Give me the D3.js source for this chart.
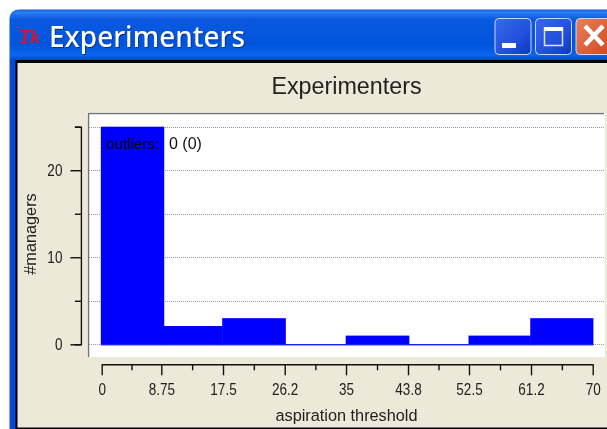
<!DOCTYPE html>
<html><head><meta charset="utf-8">
<script src="https://cdn.jsdelivr.net/npm/d3@7"></script>
<style>html,body{margin:0;padding:0;background:#fff;overflow:hidden}svg{display:block;filter:blur(0.4px)}text{font-family:"Liberation Sans",Arial,sans-serif}</style>
</head><body>
<svg id="c" width="607" height="429"></svg>
<script>
const binEdges=[-0.1,8.87,17.2,26.2,34.8,43.8,52.3,61.1,70.1];
const counts=[25,2.1,3,0,1,0,1,3];
const xMajor=[0,8.75,17.5,26.25,35,43.75,52.5,61.25,70];
const xLabels=["0","8.75","17.5","26.2","35","43.8","52.5","61.2","70"];
const xMinor=[4.375,13.125,21.875,30.625,39.375,48.125,56.875,65.625];
const yMajor=[0,10,20];
const yMinor=[5,15,25];
const yGrid=[0,5,10,15,20,25];
const windowTitle="Experimenters",chartTitle="Experimenters";
const xTitle="aspiration threshold",yTitle="#managers",note="outliers:",noteValue="0 (0)";

const svg=d3.select("#c");
const x=d3.scaleLinear().domain([0,70]).range([101.5,592.7]);
const xAxisScale=d3.scaleLinear().domain(xMajor).range([101.7,161.3,223,284.7,346,408,469,531,592.7]);
const y=d3.scaleLinear().domain([0,25]).range([344.3,126.7]);

const defs=svg.append("defs");
const g1=defs.append("linearGradient").attr("id","tb").attr("x1",0).attr("x2",0).attr("y1",0).attr("y2",1);
g1.attr("gradientUnits","userSpaceOnUse").attr("y1",9).attr("y2",60);
[[0,"#0a50d0"],[.06,"#2a80f0"],[.2,"#0a5ae0"],[.7,"#0054dc"],[.9,"#0a66ee"],[1,"#0048c8"]].forEach(d=>g1.append("stop").attr("offset",d[0]).attr("stop-color",d[1]));
const g2=defs.append("linearGradient").attr("id","bb").attr("x1",0).attr("x2",1).attr("y1",0).attr("y2",1);
[[0,"#3a68ec"],[.6,"#2350dc"],[1,"#0c38c0"]].forEach(d=>g2.append("stop").attr("offset",d[0]).attr("stop-color",d[1]));
const g3=defs.append("linearGradient").attr("id","rb").attr("x1",0).attr("x2",1).attr("y1",0).attr("y2",1);
[[0,"#e8805c"],[1,"#d0481c"]].forEach(d=>g3.append("stop").attr("offset",d[0]).attr("stop-color",d[1]));

svg.append("path").attr("d","M9.5,18Q10,9.5 20,9.5H607V429H9.5Z").attr("fill","url(#tb)");
svg.append("rect").attr("x",10).attr("y",60).attr("width",7).attr("height",369).attr("fill","#0848d8");
svg.append("rect").attr("x",15.5).attr("y",60).attr("width",592).attr("height",369).attr("fill","#000");
svg.append("rect").attr("x",17.5).attr("y",63).attr("width",590).attr("height",364.5).attr("fill","#ECE9D8");

svg.append("text").attr("x",19).attr("y",43).attr("font-size",19).attr("font-style","italic").attr("font-weight",700).attr("fill","#e8101c").style("font-family","'Liberation Serif',serif").text("Tk");
svg.append("text").attr("x",50).attr("y",48).attr("font-size",28).attr("font-weight",500).attr("fill","#00207a").attr("opacity",.7).style("font-family","'Noto Sans',sans-serif").text(windowTitle);
svg.append("text").attr("x",49).attr("y",47).attr("font-size",28).attr("font-weight",500).attr("fill","#fff").style("font-family","'Noto Sans',sans-serif").text(windowTitle);
const btn=(bx,fill)=>svg.append("rect").attr("x",bx).attr("y",18.5).attr("width",36).attr("height",36).attr("rx",4).attr("fill",fill).attr("stroke","#c8d8f8").attr("stroke-width",1);
btn(495,"url(#bb)");
svg.append("rect").attr("x",502).attr("y",43).attr("width",14).attr("height",5).attr("fill","#fff");
btn(535.5,"url(#bb)");
svg.append("rect").attr("x",544.5).attr("y",28).attr("width",18).attr("height",17.5).attr("fill","none").attr("stroke","#d8e4fc").attr("stroke-width",1.5);
svg.append("rect").attr("x",544).attr("y",27).attr("width",19).attr("height",4).attr("fill","#fff");
btn(576,"url(#rb)");
svg.append("path").attr("d","M585,26L603,45M603,26L585,45").attr("stroke","#fff").attr("stroke-width",4.5).attr("fill","none");

svg.append("text").attr("x",346.5).attr("y",94).attr("text-anchor","middle").attr("font-size",23.3).attr("fill","#222").text(chartTitle);
svg.append("rect").attr("x",87).attr("y",112).attr("width",518).attr("height",245).attr("fill","#fff");
svg.append("path").attr("d","M88.5,357V113.5H604").attr("fill","none").attr("stroke","#77776f").attr("stroke-width",1.5);

svg.append("g").selectAll("line").data(yGrid).join("line")
 .attr("x1",89).attr("x2",604).attr("y1",d=>Math.round(y(d))+.5).attr("y2",d=>Math.round(y(d))+.5)
 .attr("stroke","#999").attr("stroke-dasharray","1 1");

svg.append("g").selectAll("rect").data(counts).join("rect")
 .attr("x",(d,i)=>x(binEdges[i]))
 .attr("width",(d,i)=>x(binEdges[i+1])-x(binEdges[i])+(i<counts.length-1?.5:0))
 .attr("y",d=>y(d))
 .attr("height",d=>y(0)-y(d)+.9)
 .attr("fill","#0000ff");
svg.append("g").selectAll("line").data(counts).join("line")
 .attr("x1",(d,i)=>x(binEdges[i])).attr("x2",(d,i)=>x(binEdges[i+1]))
 .attr("y1",344.7).attr("y2",344.7).attr("stroke","#2020ff").attr("stroke-width",1.2);

svg.append("text").attr("x",106).attr("y",149).attr("font-size",15.2).attr("fill","#000").text(note);
svg.append("text").attr("x",169).attr("y",149).attr("font-size",16).attr("fill","#111").text(noteValue);

const squeeze=.82;
const style=g=>{g.select(".domain").attr("stroke","#111").attr("stroke-width",1.4);g.selectAll(".tick line").attr("stroke","#111").attr("stroke-width",1.4);
 g.selectAll("text").attr("fill","#222").attr("font-size",16.5)
  .attr("x",function(){return (+this.getAttribute("x")||0)/squeeze;}).attr("transform",`scale(${squeeze},1)`);};
const ax=80.9,ay=364.3;
svg.append("g").attr("transform",`translate(${ax},0)`)
 .call(d3.axisLeft(y).tickValues(yMinor).tickSize(6).tickSizeOuter(6).tickFormat("")).call(style);
svg.append("g").attr("transform",`translate(${ax},0)`)
 .call(d3.axisLeft(y).tickValues(yMajor).tickSize(10.5).tickSizeOuter(0).tickPadding(8).tickFormat(d3.format("d"))).call(style).call(g=>g.select(".domain").remove());
svg.append("g").attr("transform",`translate(0,${ay})`)
 .call(d3.axisBottom(xAxisScale).tickValues(xMinor).tickSize(6).tickSizeOuter(0).tickFormat("")).call(style);
svg.append("g").attr("transform",`translate(0,${ay})`)
 .call(d3.axisBottom(xAxisScale).tickValues(xMajor).tickSize(11).tickSizeOuter(0).tickPadding(8).tickFormat((d,i)=>xLabels[i])).call(style).call(g=>g.select(".domain").remove());

svg.append("text").attr("x",346.5).attr("y",421).attr("text-anchor","middle").attr("font-size",16.3).attr("fill","#222").text(xTitle);
svg.append("text").attr("transform","translate(36,234) rotate(-90)").attr("text-anchor","middle").attr("font-size",16.3).attr("fill","#222").text(yTitle);
</script>
</body></html>
